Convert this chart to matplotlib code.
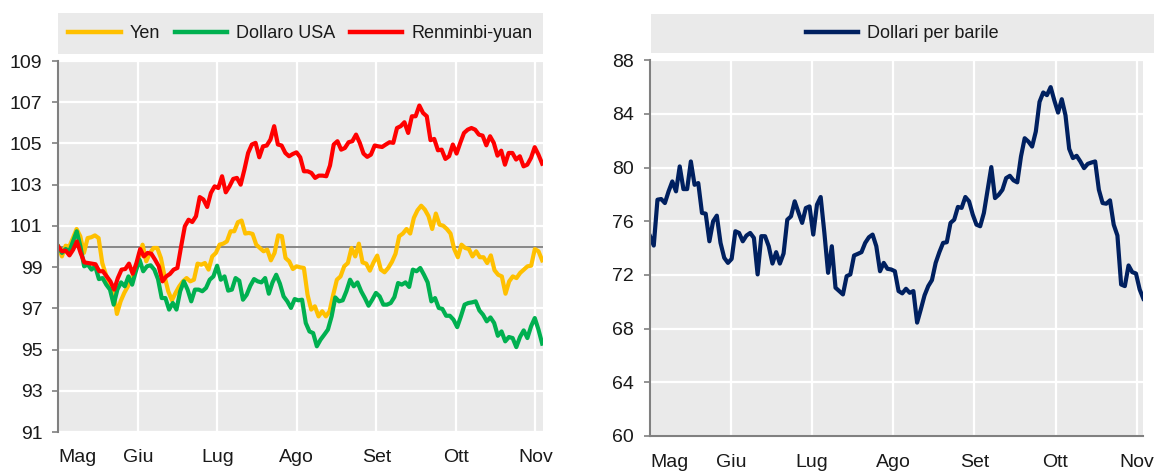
import numpy as np
import matplotlib
matplotlib.use('Agg')
import matplotlib.pyplot as plt
from matplotlib.patches import Rectangle
from matplotlib.lines import Line2D

plt.rcParams['font.family'] = ['Liberation Sans Narrow', 'DejaVu Sans Condensed', 'Liberation Sans']

mesi = ['Mag', 'Giu', 'Lug', 'Ago', 'Set', 'Ott', 'Nov']

# tassi di cambio (indice, inizio maggio = 100)
yen = [100.0, 99.52, 100.04, 100.0, 100.41, 100.85, 100.50, 99.69, 100.41, 100.45, 100.54, 100.41,
       99.20, 98.63, 98.23, 97.91, 96.73, 97.34, 97.75, 98.07, 98.47, 98.80, 99.44, 100.09, 99.28,
       99.69, 99.93, 99.93, 99.44, 98.55, 97.83, 97.39, 97.75, 98.07, 98.31, 98.47, 98.31, 98.39,
       99.17, 99.12, 99.20, 98.88, 99.52, 99.69, 100.09, 100.14, 100.25, 100.74, 100.74, 101.18,
       101.26, 100.63, 100.66, 100.61, 100.09, 99.93, 99.77, 99.85, 99.33, 99.69, 100.54, 100.50,
       99.44, 99.28, 98.91, 99.04, 98.99, 98.96, 97.66, 96.94, 97.10, 96.61, 96.86, 96.61, 96.86,
       97.66, 98.39, 98.55, 99.04, 99.20, 99.93, 99.52, 100.14, 99.23, 99.17, 98.83, 99.23, 99.56,
       98.88, 98.75, 98.96, 99.25, 99.65, 100.50, 100.63, 100.85, 100.63, 101.39, 101.76, 101.98,
       101.79, 101.47, 100.85, 101.60, 101.06, 101.01, 100.85, 100.63, 99.88, 99.48, 100.09, 99.93,
       99.88, 99.52, 99.77, 99.48, 99.48, 99.20, 99.57, 98.85, 98.63, 98.55, 97.71, 98.31, 98.55,
       98.47, 98.72, 98.88, 99.04, 99.07, 99.88, 99.77, 99.33]
dollaro = [100.0, 99.69, 99.88, 99.77, 100.25, 100.74, 100.0, 99.04, 99.12, 98.88, 99.04, 98.42,
           98.47, 98.15, 97.91, 97.18, 97.91, 98.26, 98.07, 98.55, 98.15, 98.80, 99.36, 98.80, 99.04,
           99.09, 98.88, 98.42, 97.50, 97.50, 96.94, 97.26, 96.94, 97.83, 98.31, 97.91, 97.34, 97.91,
           97.91, 97.83, 97.99, 98.39, 98.55, 99.07, 98.39, 98.55, 97.86, 97.91, 98.47, 98.34, 97.42,
           97.66, 98.10, 98.42, 98.31, 98.26, 98.47, 97.71, 98.26, 98.63, 98.20, 97.58, 97.34, 97.02,
           97.45, 97.39, 97.42, 96.29, 95.88, 95.80, 95.16, 95.48, 95.72, 95.97, 96.61, 97.53, 97.34,
           97.39, 97.83, 98.39, 98.07, 98.26, 97.83, 97.50, 97.13, 97.42, 97.75, 97.58, 97.18, 97.18,
           97.26, 97.55, 98.23, 98.15, 98.26, 98.04, 98.88, 98.80, 98.96, 98.63, 98.26, 97.34, 97.50,
           97.02, 96.97, 96.64, 96.64, 96.45, 96.09, 96.61, 97.18, 97.26, 97.29, 97.34, 96.90, 96.69,
           96.37, 96.56, 96.29, 95.67, 95.88, 95.40, 95.61, 95.56, 95.12, 95.61, 95.93, 95.56, 96.13,
           96.53, 95.97, 95.29]
renminbi = [100.0, 99.77, 99.80, 99.57, 99.85, 100.25, 99.69, 99.23, 99.20, 99.17, 99.14, 98.80,
            98.80, 98.55, 98.31, 97.91, 98.47, 98.88, 98.91, 99.17, 98.68, 99.20, 99.88, 99.52, 99.69,
            99.65, 99.36, 99.04, 98.31, 98.55, 98.67, 98.88, 98.96, 100.0, 100.98, 101.30, 101.19,
            101.47, 102.40, 102.28, 101.92, 102.60, 102.92, 102.84, 103.41, 102.63, 102.92, 103.28,
            103.33, 103.0, 103.73, 104.54, 104.95, 105.03, 104.33, 104.86, 104.90, 105.19, 105.84,
            104.95, 104.90, 104.54, 104.38, 104.49, 104.57, 104.33, 103.65, 103.65, 103.57, 103.33,
            103.44, 103.44, 103.41, 103.93, 104.95, 105.11, 104.70, 104.78, 105.06, 105.11, 105.43,
            105.03, 104.51, 104.35, 104.46, 104.90, 104.86, 104.83, 104.95, 105.06, 105.03, 105.75,
            105.84, 106.03, 105.51, 106.32, 106.32, 106.84, 106.48, 106.32, 105.16, 105.22, 104.67,
            104.70, 104.25, 104.38, 104.95, 104.51, 105.03, 105.51, 105.67, 105.75, 105.67, 105.43,
            105.38, 104.91, 105.35, 105.03, 104.41, 104.65, 103.97, 104.54, 104.54, 104.22, 104.38,
            103.89, 103.97, 104.30, 104.82, 104.46, 104.02]

# petrolio, dollari per barile
petrolio = [74.89, 74.19, 77.61, 77.66, 77.36, 78.23, 78.97, 78.23, 80.09, 78.40, 78.40, 80.46, 78.72,
            78.85, 76.62, 76.57, 74.51, 76.00, 76.42, 74.39, 73.28, 72.90, 73.20, 75.26, 75.13, 74.51,
            74.94, 75.13, 74.76, 72.04, 74.89, 74.89, 74.14, 72.85, 73.70, 72.85, 73.60, 76.12, 76.37,
            77.49, 76.67, 75.88, 76.99, 77.11, 75.01, 77.24, 77.81, 75.13, 72.16, 74.14, 71.05, 70.80,
            70.55, 71.91, 72.04, 73.45, 73.57, 73.70, 74.39, 74.81, 75.01, 74.14, 72.28, 72.90, 72.46,
            72.41, 72.28, 70.80, 70.63, 70.97, 70.67, 70.80, 68.45, 69.44, 70.48, 71.17, 71.62, 72.90,
            73.70, 74.39, 74.44, 75.88, 76.12, 77.07, 77.00, 77.81, 77.49, 76.50, 75.75, 75.63, 76.62,
            78.35, 80.04, 77.73, 77.98, 78.35, 79.22, 79.39, 79.05, 78.90, 80.83, 82.19, 81.94, 81.57,
            82.69, 84.90, 85.60, 85.40, 86.00, 85.00, 84.10, 85.10, 83.90, 81.40, 80.71, 80.88, 80.46,
            79.96, 80.28, 80.38, 80.46, 78.35, 77.36, 77.31, 77.56, 75.75, 74.94, 71.29, 71.17, 72.71,
            72.21, 72.11, 70.92, 70.23]

GIALLO = '#FFC000'
VERDE = '#00B050'
ROSSO = '#FF0000'
BLU = '#002060'
SFONDO = '#EAEAEA'
GRIGIO = '#808080'
FS = 14
FS_LEG = 13

fig = plt.figure(figsize=(11.54, 4.72), dpi=100)
ax1 = fig.add_axes([0.0505, 0.0847, 0.42, 0.786])
ax2 = fig.add_axes([0.5633, 0.0763, 0.4275, 0.796])

def stile(ax, yticks, ylim, xmax, pad_x, asse_x):
    ax.set_facecolor(SFONDO)
    ax.set_xlim(0, xmax)
    ax.set_ylim(*ylim)
    ax.set_yticks(yticks)
    ax.set_xticks(range(len(mesi)))
    ax.set_xticklabels(mesi)
    ax.get_xticklabels()[0].set_ha('left')
    ax.grid(True, color='white', lw=1.6)
    ax.set_axisbelow(True)
    for s in ['top', 'right']:
        ax.spines[s].set_visible(False)
    ax.spines['left'].set_color(GRIGIO)
    ax.spines['left'].set_linewidth(1.5)
    if asse_x:
        ax.spines['bottom'].set_color(GRIGIO)
        ax.spines['bottom'].set_linewidth(1.5)
    else:
        ax.spines['bottom'].set_visible(False)
    ax.tick_params(axis='y', length=4.5, width=1.2, color=GRIGIO, pad=7,
                   labelsize=FS, labelcolor='#1a1a1a')
    ax.tick_params(axis='x', length=0, pad=pad_x, labelsize=FS, labelcolor='#1a1a1a')

# pannello sinistro: cambi
stile(ax1, range(91, 110, 2), (91, 109), 6.095, 12, False)
ax1.axhline(100, color=GRIGIO, lw=1.3, zorder=1.5)
for serie, col in [(yen, GIALLO), (dollaro, VERDE), (renminbi, ROSSO)]:
    x = np.linspace(0, 6.085, len(serie))
    ax1.plot(x, serie, color=col, lw=3.0, solid_joinstyle='round')

# pannello destro: petrolio
stile(ax2, range(60, 89, 4), (60, 88), 6.083, 13, True)
x = np.linspace(0, 6.083, len(petrolio))
ax2.plot(x, petrolio, color=BLU, lw=3.0, solid_joinstyle='round')

# legende su riquadro grigio
fig.patches.append(Rectangle((0.05, 0.885), 0.4205, 0.087, transform=fig.transFigure,
                             facecolor=SFONDO, edgecolor='none'))
fig.patches.append(Rectangle((0.5641, 0.887), 0.4359, 0.083, transform=fig.transFigure,
                             facecolor=SFONDO, edgecolor='none'))

h1 = [Line2D([], [], color=c, lw=3.2) for c in [GIALLO, VERDE, ROSSO]]
fig.legend(h1, ['Yen', 'Dollaro USA', 'Renminbi-yuan'], loc='center',
           bbox_to_anchor=(0.05 + 0.4205 / 2, 0.9285), ncol=3, frameon=False,
           fontsize=FS_LEG, handlelength=2.9, handletextpad=0.5, columnspacing=0.8,
           labelcolor='#1a1a1a')
h2 = [Line2D([], [], color=BLU, lw=3.2)]
fig.legend(h2, ['Dollari per barile'], loc='center',
           bbox_to_anchor=(0.5641 + 0.4359 / 2, 0.9285), ncol=1, frameon=False,
           fontsize=FS_LEG, handlelength=2.9, handletextpad=0.5, labelcolor='#1a1a1a')

fig.savefig('out.png', dpi=100)
